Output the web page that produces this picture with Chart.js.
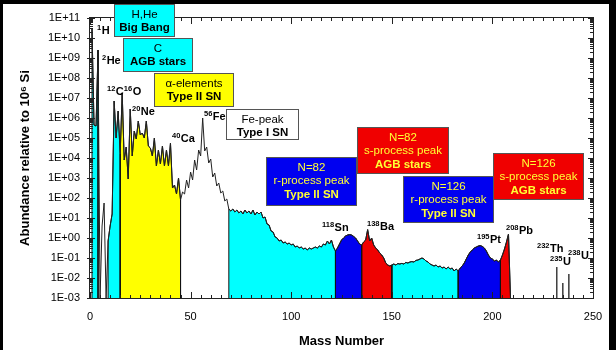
<!DOCTYPE html>
<html>
<head>
<meta charset="utf-8">
<script src="https://cdn.jsdelivr.net/npm/chart.js@4.4.0/dist/chart.umd.min.js"></script>
<style>
  html, body { margin: 0; padding: 0; background: #000; }
  #wrap { position: absolute; left: 0; top: 0; width: 616px; height: 350px; }
</style>
</head>
<body>
<div id="wrap"><canvas id="chart" width="616" height="350"></canvas></div>
<script>
// main curve: mass numbers 1..209, one value per mass number
const firstMass = 1;
// log10 of abundance (Si = 1e6); -3 means the curve sits on the axis
const logAbundance = [
  10.45, 5.65, 5.6, 9.4, -3, 0.6, 1.75, -3, -0.15, 0.6,
  1.2, 6.85, 5.0, 6.35, 4.2, 7.25, 3.9, 4.55, 2.95, 6.45,
  4.1, 5.35, 4.95, 5.85, 5.15, 5.25, 5.0, 5.85, 4.6, 4.5,
  4.1, 5.0, 3.6, 4.4, 3.7, 4.6, 3.6, 4.4, 3.6, 4.75,
  2.5, 2.65, 2.2, 3.0, 1.9, 2.3, 2.2, 2.9, 2.5, 3.3,
  2.9, 3.9, 3.4, 4.4, 4.1, 6.0, 4.35, 4.55, 3.75, 3.95,
  3.05, 3.25, 2.6, 2.75, 2.25, 2.35, 1.85, 1.95, 1.45, 1.35,
  1.45, 1.3, 1.4, 1.25, 1.35, 1.2, 1.4, 1.25, 1.35, 1.2,
  1.4, 1.15, 1.3, 1.2, 1.3, 1.0, 1.05, 0.7, 0.65, 0.35,
  0.3, 0.05, 0.0, -0.15, -0.1, -0.25, -0.2, -0.3, -0.25, -0.35,
  -0.3, -0.45, -0.4, -0.5, -0.45, -0.55, -0.5, -0.6, -0.5, -0.55,
  -0.5, -0.45, -0.5, -0.4, -0.45, -0.3, -0.35, -0.15, -0.3, -0.1,
  -0.45, -0.65, -0.5, -0.3, -0.1, 0.0, 0.1, 0.15, 0.17, 0.15,
  0.08, 0.0, -0.15, -0.3, -0.35, -0.2, -0.1, 0.42, -0.15, 0.0,
  -0.35, -0.5, -0.6, -0.75, -0.85, -1.0, -1.25, -1.35, -1.4, -1.35,
  -1.3, -1.35, -1.28, -1.3, -1.27, -1.3, -1.22, -1.25, -1.2, -1.18,
  -1.2, -1.12, -1.1, -1.05, -1.0, -1.05, -1.15, -1.2, -1.3, -1.35,
  -1.4, -1.35, -1.45, -1.4, -1.5, -1.45, -1.55, -1.45, -1.55, -1.5,
  -1.65, -1.55, -1.65, -1.5, -1.4, -1.25, -1.05, -0.85, -0.7, -0.6,
  -0.5, -0.45, -0.4, -0.38, -0.42, -0.5, -0.65, -0.85, -1.0, -1.05,
  -1.15, -1.1, -1.2, -1.1, -0.85, -0.55, -0.2, 0.2, -3
];

// Th and U lines
const spikeMass = [232, 235, 238];
const spikeLog = [-1.45, -2.25, -1.8];

// shaded regions (mass number ranges)
const regionStart = [1, 9, 15, 69, 122, 135, 150, 183, 204];
const regionEnd = [4, 15, 45, 122, 135, 150, 183, 204, 209];
const regionColor = ['#00ffff', '#00ffff', '#ffff00', '#00ffff', '#0000f0', '#f00000', '#00ffff', '#0000f0', '#f00000'];

const yTickLabels = ['1E-03', '1E-02', '1E-01', '1E+00', '1E+01', '1E+02', '1E+03',
  '1E+04', '1E+05', '1E+06', '1E+07', '1E+08', '1E+09', '1E+10', '1E+11'];
const xTickLabels = ['0', '50', '100', '150', '200', '250'];

const yMin = Number(yTickLabels[0]);
const yMax = Number(yTickLabels[yTickLabels.length - 1]);

// build points
const curve = logAbundance.map((v, i) => ({ x: firstMass + i, y: Math.pow(10, v) }));

const regionSets = regionStart.map((lo, r) => {
    const hi = regionEnd[r];
    const pts = curve.filter(p => p.x >= lo && p.x <= hi);
    return {
        data: [{ x: lo, y: yMin }].concat(pts, [{ x: hi, y: yMin }]),
        borderColor: '#111',
        borderWidth: 1,
        backgroundColor: regionColor[r],
        fill: 'start',
        pointRadius: 0,
        order: 2
    };
});

const spikeData = [];
spikeMass.forEach((m, i) => {
    spikeData.push({ x: m, y: yMin }, { x: m, y: Math.pow(10, spikeLog[i]) }, { x: m, y: yMin }, { x: m + 1, y: null });
});

// annotation boxes and peak labels (page pixels)
const boxes = [
    { x: 114, y: 4, w: 61, h: 33, fill: '#00ffff', text: '#000', lines: ['H,He', 'Big Bang'] },
    { x: 123, y: 38, w: 70, h: 34, fill: '#00ffff', text: '#000', lines: ['C', 'AGB stars'] },
    { x: 154, y: 73, w: 80, h: 34, fill: '#ffff00', text: '#000', lines: ['\u03b1-elements', 'Type II SN'] },
    { x: 226, y: 109, w: 73, h: 31, fill: '#ffffff', text: '#000', lines: ['Fe-peak', 'Type I SN'] },
    { x: 266, y: 157, w: 91, h: 49, fill: '#0000f0', text: '#ffff33', lines: ['N=82', 'r-process peak', 'Type II SN'] },
    { x: 357, y: 127, w: 92, h: 47, fill: '#f00000', text: '#ffff33', lines: ['N=82', 's-process peak', 'AGB stars'] },
    { x: 403, y: 176, w: 91, h: 47, fill: '#0000f0', text: '#ffff33', lines: ['N=126', 'r-process peak', 'Type II SN'] },
    { x: 493, y: 153, w: 91, h: 47, fill: '#f00000', text: '#ffff33', lines: ['N=126', 's-process peak', 'AGB stars'] }
];

const peakLabels = [
    { x: 97, y: 31, parts: [['1', 'H']] },
    { x: 102, y: 61, parts: [['2', 'He']] },
    { x: 107, y: 92, parts: [['12', 'C'], ['16', 'O']] },
    { x: 132, y: 112, parts: [['20', 'Ne']] },
    { x: 172, y: 139, parts: [['40', 'Ca']] },
    { x: 204, y: 117, parts: [['56', 'Fe']] },
    { x: 322, y: 228, parts: [['118', 'Sn']] },
    { x: 367, y: 227, parts: [['138', 'Ba']] },
    { x: 477, y: 240, parts: [['195', 'Pt']] },
    { x: 506, y: 231, parts: [['208', 'Pb']] },
    { x: 537, y: 249, parts: [['232', 'Th']] },
    { x: 550, y: 262, parts: [['235', 'U']] },
    { x: 568, y: 256, parts: [['238', 'U']] }
];

const decorations = {
    id: 'decorations',
    beforeDraw(chart) {
        const ctx = chart.ctx;
        ctx.save();
        ctx.fillStyle = '#000';
        ctx.fillRect(0, 0, chart.width, chart.height);
        ctx.fillStyle = '#fff';
        ctx.fillRect(3, 4, 606, 346);
        ctx.restore();
    },
    afterDatasetsDraw(chart) {
        const { ctx, chartArea: a, scales: { x, y } } = chart;
        ctx.save();
        ctx.strokeStyle = '#222';
        ctx.lineWidth = 1;
        ctx.strokeRect(a.left - 0.5, a.top - 0.5, a.right - a.left + 1, a.bottom - a.top + 1);
        ctx.beginPath();
        // x ticks every 5, inward on bottom and top
        for (let m = 0; m <= 250; m += 5) {
            const px = Math.round(x.getPixelForValue(m)) + 0.5;
            const len = m % 50 === 0 ? 6 : 3;
            ctx.moveTo(px, a.bottom); ctx.lineTo(px, a.bottom - len);
            ctx.moveTo(px, a.top); ctx.lineTo(px, a.top + len);
        }
        // log ticks on left and right
        yTickLabels.forEach(lbl => {
            const v = Number(lbl);
            for (let k = 1; k <= 9; k++) {
                if (v * k > yMax * 1.0001) break;
                const py = Math.round(y.getPixelForValue(v * k)) + 0.5;
                const len = k === 1 ? 5 : 3;
                ctx.moveTo(a.left - (k === 1 ? 3 : 0), py); ctx.lineTo(a.left + len, py);
                ctx.moveTo(a.right, py); ctx.lineTo(a.right - len, py);
            }
        });
        ctx.stroke();
        ctx.restore();
    },
    afterDraw(chart) {
        const ctx = chart.ctx;
        ctx.save();
        // boxes
        boxes.forEach(b => {
            ctx.fillStyle = b.fill;
            ctx.fillRect(b.x, b.y, b.w, b.h);
            ctx.strokeStyle = '#555';
            ctx.lineWidth = 1;
            ctx.strokeRect(b.x + 0.5, b.y + 0.5, b.w - 1, b.h - 1);
            ctx.fillStyle = b.text;
            ctx.textAlign = 'center';
            ctx.textBaseline = 'middle';
            b.lines.forEach((t, i) => {
                const last = i === b.lines.length - 1;
                ctx.font = (last ? 'bold 11.5px' : '11.5px') + ' "Liberation Sans", Arial, sans-serif';
                ctx.fillText(t, b.x + b.w / 2, b.y + 10.5 + i * 13.8);
            });
        });
        // peak labels with mass-number superscripts
        ctx.fillStyle = '#000';
        ctx.textAlign = 'left';
        ctx.textBaseline = 'middle';
        peakLabels.forEach(l => {
            let cx = l.x;
            l.parts.forEach(([sup, el]) => {
                ctx.font = 'bold 7.5px "Liberation Sans", Arial, sans-serif';
                ctx.fillText(sup, cx, l.y - 3.5);
                cx += ctx.measureText(sup).width + 0.5;
                ctx.font = 'bold 11px "Liberation Sans", Arial, sans-serif';
                ctx.fillText(el, cx, l.y);
                cx += ctx.measureText(el).width;
            });
        });
        ctx.restore();
    }
};

new Chart(document.getElementById('chart'), {
    type: 'line',
    data: {
        datasets: [
            {
                data: curve,
                borderColor: '#222',
                borderWidth: 1,
                pointRadius: 0,
                fill: false,
                order: 0
            },
            {
                data: spikeData,
                borderColor: '#333',
                borderWidth: 1,
                pointRadius: 0,
                fill: false,
                spanGaps: false,
                order: 0
            }
        ].concat(regionSets)
    },
    options: {
        responsive: false,
        animation: false,
        devicePixelRatio: 1,
        layout: { padding: { top: 18, right: 23, left: 0, bottom: 0 } },
        plugins: {
            legend: { display: false },
            tooltip: { enabled: false }
        },
        elements: { line: { tension: 0 } },
        scales: {
            x: {
                type: 'linear',
                min: 0,
                max: 250,
                afterBuildTicks: scale => { scale.ticks = xTickLabels.map(t => ({ value: Number(t) })); },
                afterFit: scale => { scale.height = 52; },
                grid: { display: false, drawTicks: false },
                border: { display: false },
                ticks: {
                    autoSkip: false,
                    maxRotation: 0,
                    padding: 12,
                    color: '#000',
                    font: { family: '"Liberation Sans", Arial, sans-serif', size: 11 },
                    callback: (v, i) => xTickLabels[i]
                },
                title: {
                    display: true,
                    text: 'Mass Number',
                    color: '#000',
                    padding: { top: 0, bottom: 1 },
                    font: { family: '"Liberation Sans", Arial, sans-serif', size: 13, weight: 'bold' }
                }
            },
            y: {
                type: 'logarithmic',
                min: yMin,
                max: yMax,
                afterBuildTicks: scale => { scale.ticks = yTickLabels.map(t => ({ value: Number(t) })); },
                afterFit: scale => { scale.width = 90; },
                grid: { display: false, drawTicks: false },
                border: { display: false },
                ticks: {
                    autoSkip: false,
                    padding: 10,
                    color: '#000',
                    font: { family: '"Liberation Sans", Arial, sans-serif', size: 11 },
                    callback: (v, i) => yTickLabels[i]
                },
                title: {
                    display: true,
                    text: 'Abundance relative to 10\u2076 Si',
                    color: '#000',
                    padding: { top: 18, bottom: 0 },
                    font: { family: '"Liberation Sans", Arial, sans-serif', size: 13, weight: 'bold' }
                }
            }
        }
    },
    plugins: [decorations]
});
</script>
</body>
</html>
